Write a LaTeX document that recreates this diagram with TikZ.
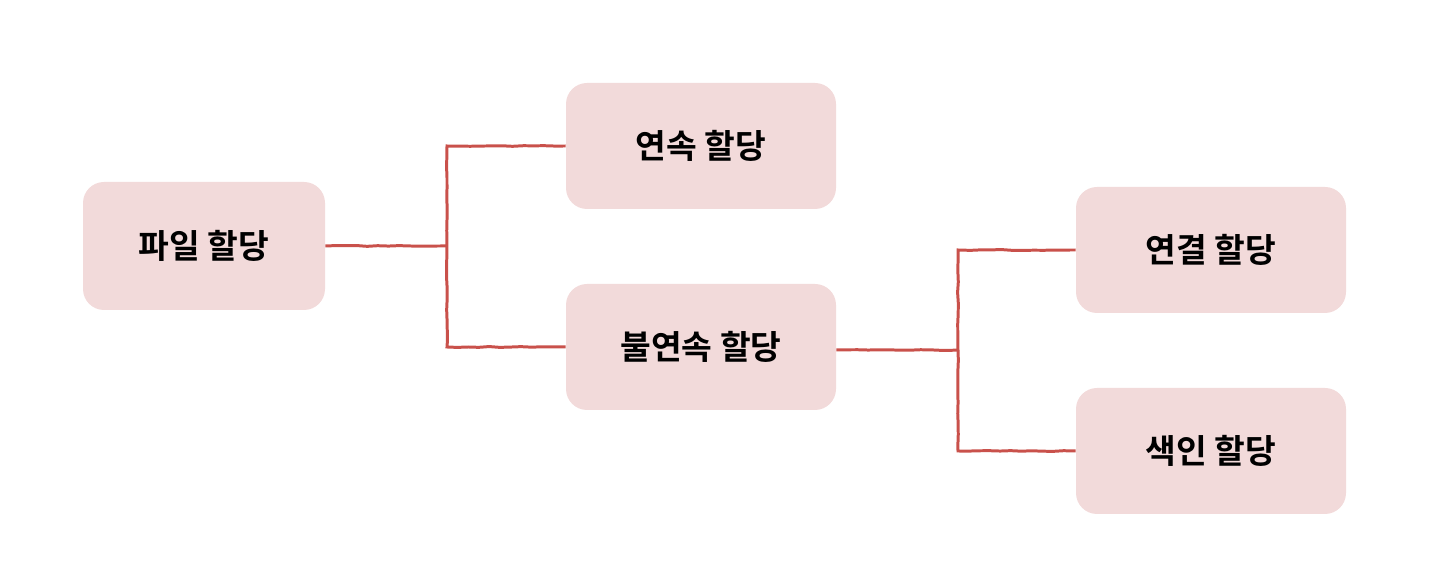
\documentclass[tikz,border=0pt]{standalone}
\usepackage{fontspec}
\setmainfont{Noto Sans CJK KR}
\newfontfamily\krbold{Noto Sans CJK KR Bold}
\usepackage{xcolor}
\usepackage{tikz}
\usetikzlibrary{positioning, calc, decorations.pathmorphing}
\definecolor{allocpink}{RGB}{242, 218, 218}
\definecolor{linkred}{RGB}{201, 81, 75}

\begin{document}
\begin{tikzpicture}[
    alloc/.style={rectangle, rounded corners=0.42cm, fill=allocpink, draw=none,
                  minimum width=5.4cm, minimum height=2.52cm,
                  align=center, font=\krbold\fontsize{19}{23}\selectfont},
    link/.style={draw=linkred, line width=1.7pt, line join=miter,
                 decorate, decoration={random steps, segment length=6pt, amplitude=0.25pt}}
]
    \useasboundingbox (0, 0) rectangle (28.88, 11.72);

    % Allocation methods
    \node[alloc, minimum width=4.84cm, minimum height=2.56cm] (file) at (4.08, 6.80) {파일 할당};
    \node[alloc] (contig) at (14.02, 8.80) {연속 할당};
    \node[alloc] (noncontig) at (14.02, 4.78) {불연속 할당};
    \node[alloc] (linked) at (24.22, 6.72) {연결 할당};
    \node[alloc] (indexed) at (24.22, 2.70) {색인 할당};

    % Branch points
    \coordinate (b1) at (8.94, 6.80);
    \coordinate (b2) at (19.16, 4.72);

    % Tree links
    \draw[link] (file.east) -- (b1);
    \draw[link] (contig.west) -| (b1) |- (noncontig.west);
    \draw[link] (noncontig.east |- b2) -- (b2);
    \draw[link] (linked.west) -| (b2) |- (indexed.west);
\end{tikzpicture}
\end{document}
